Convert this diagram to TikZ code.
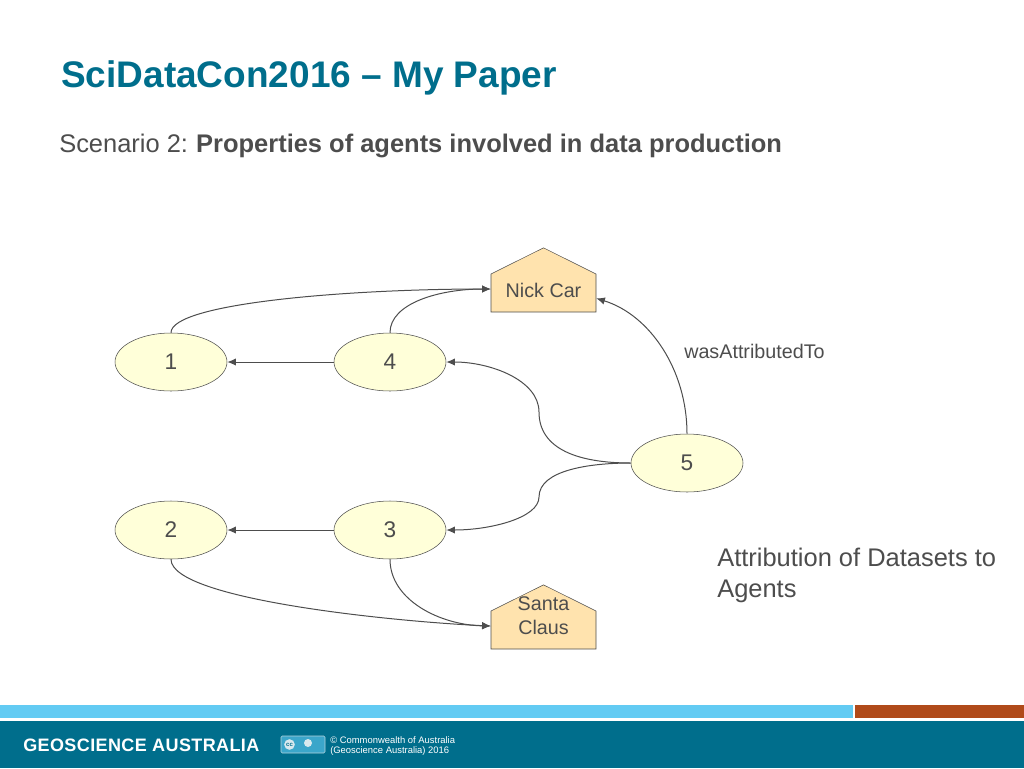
\documentclass[tikz,border=0pt]{standalone}
\usepackage{fontspec}
\setmainfont{Liberation Sans}
\usetikzlibrary{arrows.meta}
\usetikzlibrary{shapes.geometric}
\usetikzlibrary{shapes.symbols}
\definecolor{gatext}{HTML}{4D4D4D}
\definecolor{gateal}{HTML}{006E8C}
\definecolor{gasky}{HTML}{63CBF3}
\definecolor{garust}{HTML}{B04A1A}
\definecolor{entfill}{HTML}{FFFFD9}
\definecolor{agtfill}{HTML}{FFE3AE}
\newcommand*{\titlefont}{\fontsize{27.75}{32}\selectfont\bfseries}
\newcommand*{\bodyfont }{\fontsize{19.1}{23.25}\selectfont}
\newcommand*{\nodefont }{\fontsize{17}{20}\selectfont}
\newcommand*{\smalfont }{\fontsize{14.8}{18}\selectfont}
\tikzset{
    entity/.style    = {ellipse, draw=gatext, fill=entfill, minimum width=84pt, minimum height=43.5pt, inner sep=0pt, font=\nodefont, text=gatext},
    agent/.style     = {signal, signal to=north, signal from=nowhere, signal pointer angle=127, draw=gatext, fill=agtfill, minimum width=78.75pt, minimum height=28.5pt, inner sep=0pt},
    agentname/.style = {inner sep=0pt, font=\smalfont, text=gatext, align=center},
    link/.style      = {draw=gatext, line width=0.75pt, -{Latex[length=6.5pt,width=5.5pt]}},
    plain/.style     = {inner sep=0pt, anchor=west, text=gatext},
}
\begin{document}
\begin{tikzpicture}[x=0.75pt, y=-0.75pt]
    \useasboundingbox (0,0) rectangle (1024,768);
    % footer bands
    \fill [gasky]  (0,705)   rectangle (853,717.5);
    \fill [garust] (855,705) rectangle (1024,717.5);
    \fill [gateal] (0,721)   rectangle (1024,768);
    % headings
    \node [plain, text=gateal, font=\titlefont] (title) at (61,78) {SciDataCon2016 -- My Paper};
    \node [plain, font=\bodyfont] (subtitle) at (59,146) {Scenario 2:\hspace{-1pt} \textbf{Properties of agents involved in data production}};
    % nodes
    \node [entity] (one)   at (171,362) {1};
    \node [entity] (four)  at (390,362) {4};
    \node [entity] (two)   at (171,530) {2};
    \node [entity] (three) at (390,530) {3};
    \node [entity] (five)  at (687,463) {5};
    \node [agent]  (nick)  at (543.5,293) {};
    \node [agent]  (santa) at (543.5,630) {};
    \node [agentname] (nickname)  at (543.5,290) {Nick Car};
    \node [agentname] (santaname) at (543.5,616) {Santa\\Claus};
    % links
    \draw [link] (four.west)  -- (one.east);
    \draw [link] (three.west) -- (two.east);
    \draw [link] (one.north)  .. controls (171,303) and (350,289) .. ([yshift=3pt]nick.west);
    \draw [link] (four.north) .. controls (390,303) and (440,289) .. ([yshift=3pt]nick.west);
    \draw [link] (five.north) .. controls (687,370) and (650,315) .. ([yshift=-4pt]nick.east);
    \draw [link] (five.west)  .. controls (580,463) and (539,450) .. (539,412) .. controls (539,380) and (490,362) .. (four.east);
    \draw [link] (five.west)  .. controls (590,463) and (539,470) .. (539,497) .. controls (539,518) and (490,530) .. (three.east);
    \draw [link] (two.south)  .. controls (171,600) and (400,622) .. ([yshift=3pt]santa.west);
    \draw [link] (three.south) .. controls (390,600) and (440,625) .. ([yshift=3pt]santa.west);
    % labels
    \node [plain, font=\smalfont] (attrib) at (684,351) {wasAttributedTo};
    \node [plain, font=\bodyfont, align=left] (note) at (717,575) {Attribution of Datasets to\\Agents};
    % footer
    \node [plain, text=white, font=\fontsize{13.5}{15}\selectfont\bfseries\addfontfeature{LetterSpace=2.2}] (brand) at (23,745) {GEOSCIENCE AUSTRALIA};
    \draw [fill=gasky!60!gateal, draw=white!70!gateal, rounded corners=1pt] (281,736) rectangle (325,753);
    \node [circle, fill=white!85!gateal, minimum size=8pt, inner sep=0pt, text=gateal, font=\fontsize{4.5}{5}\selectfont\bfseries] (cc) at (289.5,744.5) {cc};
    \node [circle, fill=white!85!gateal, minimum size=6pt, inner sep=0pt] (by) at (308,743) {};
    \node [plain, text=white, font=\fontsize{7.07}{8}\selectfont, align=left] (copy) at (330,746) {© Commonwealth of Australia\\(Geoscience Australia) 2016};
\end{tikzpicture}
\end{document}
